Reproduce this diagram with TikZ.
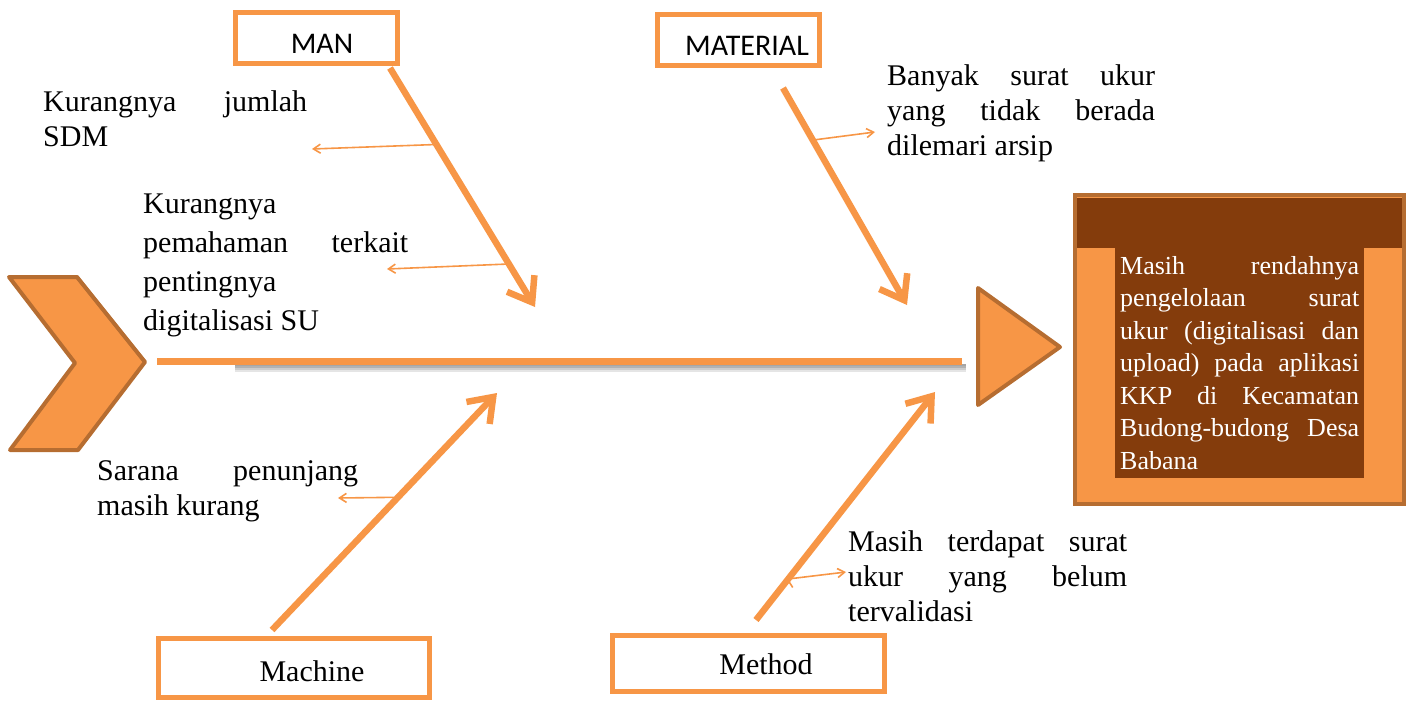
\documentclass[tikz,border=0pt]{standalone}
\usepackage{fontspec}
\setmainfont{Liberation Serif}
\newfontfamily\calibri{Carlito}
\usetikzlibrary{arrows.meta,positioning}
\definecolor{bone}{HTML}{F79646}
\definecolor{rim}{HTML}{B66D31}
\definecolor{dark}{HTML}{843C0C}
\tolerance=10000
\hyphenpenalty=10000
\exhyphenpenalty=10000
% text inside a category box: shift right, lower baseline
\newcommand{\boxtext}[3]{\hspace*{#1}\raisebox{#2}[0pt][0pt]{#3}}

\begin{document}
\begin{tikzpicture}[x=1pt,y=-1pt,
    catbox/.style={draw=bone,line width=5pt,fill=white,inner sep=0pt},
    causetext/.style={text width=#1,align=justify,inner sep=0pt,anchor=base west,
        font=\fontsize{30}{35}\selectfont},
    causetext/.default=265pt,
    bonearrow/.style={draw=bone,line width=6.5pt,-{Straight Barb[length=22pt,width=32pt]}},
    subarrow/.style={draw=bone,line width=1.6pt,-{Straight Barb[length=7pt,width=9pt]}}]
    \useasboundingbox (0,0) rectangle (1411,702);

    % fish tail and head
    \draw[rim,line width=4pt,fill=bone,line join=round]
        (9,277) -- (77,277) -- (145,362) -- (78,450) -- (10,450) -- (75,363) -- cycle;
    \draw[rim,line width=4pt,fill=bone,line join=round]
        (978,288) -- (1060,347) -- (978,405) -- cycle;

    % spine with soft shadow
    \coordinate (tail) at (157,361);
    \coordinate (head) at (962,361);
    \foreach \dy/\op in {365/.35,367/.3,369/.2,371/.1}
        \draw[black,line width=2pt,opacity=\op] (235,\dy) -- (966,\dy);
    \draw[bone,line width=7pt] (tail) -- (head);

    % effect
    \draw[rim,line width=4pt,fill=bone] (1075,195) rectangle (1404,504);
    \fill[dark] (1077,198) rectangle (1402,248);
    \fill[dark] (1115,248) rectangle (1364,478);
    \node[causetext=239pt,text=white,font=\fontsize{26}{32.5}\selectfont] (effect) at (1120,274)
        {Masih rendahnya pengelolaan surat\linebreak ukur (digitalisasi dan upload) pada aplikasi KKP di Kecamatan Budong-budong Desa Babana};

    % categories
    \node[catbox,minimum width=162pt,minimum height=51pt,font=\calibri\fontsize{30}{36}\selectfont]
        (man) at (316,38) {\boxtext{12pt}{-15pt}{MAN}};
    \node[catbox,minimum width=162pt,minimum height=51pt,font=\calibri\fontsize{30}{36}\selectfont]
        (material) at (738,40) {\boxtext{18pt}{-15pt}{MATERIAL}};
    \node[catbox,minimum width=271pt,minimum height=59pt,font=\fontsize{30}{36}\selectfont]
        (machine) at (294,668) {\boxtext{36pt}{-13pt}{Machine}};
    \node[catbox,minimum width=272pt,minimum height=56pt,font=\fontsize{30}{36}\selectfont]
        (method) at (748,663) {\boxtext{36pt}{-11pt}{Method}};

    % bones
    \coordinate (manS) at (390,68);        \coordinate (manE) at (535,307);
    \coordinate (materialS) at (783,88);   \coordinate (materialE) at (907,305);
    \coordinate (machineS) at (272,630);   \coordinate (machineE) at (497,393);
    \coordinate (methodS) at (756,620);    \coordinate (methodE) at (935,392);
    \draw[bonearrow] (manS) -- (manE)
        coordinate[pos=.32] (man1) coordinate[pos=.82] (man2);
    \draw[bonearrow] (materialS) -- (materialE) coordinate[pos=.24] (material1);
    \draw[bonearrow] (machineS) -- (machineE) coordinate[pos=.56] (machine1);
    \draw[bonearrow] (methodS) -- (methodE) coordinate[pos=.18] (method1);

    % causes
    \node[causetext=264pt] (c1) at (43,111) {Kurangnya jumlah SDM};
    \node[causetext=265pt,font=\fontsize{30}{39}\selectfont] (c2) at (143,213)
        {Kurangnya\linebreak pemahaman terkait\linebreak pentingnya\linebreak digitalisasi SU};
    \node[causetext=268pt] (c3) at (887,85) {Banyak surat ukur yang tidak berada dilemari arsip};
    \node[causetext=261pt] (c4) at (97,480) {Sarana penunjang masih kurang};
    \node[causetext=279pt] (c5) at (848,551) {Masih terdapat surat ukur yang belum tervalidasi};

    \coordinate (c1e) at (312,149);
    \coordinate (c2e) at (387,269);
    \coordinate (c3e) at (875,132);
    \coordinate (c4e) at (338,498);
    \coordinate (c5e) at (846,572);
    \path[subarrow]
        (man1) edge (c1e)
        (man2) edge (c2e)
        (material1) edge (c3e)
        (machine1) edge (c4e)
        (method1) edge (c5e);
\end{tikzpicture}
\end{document}
